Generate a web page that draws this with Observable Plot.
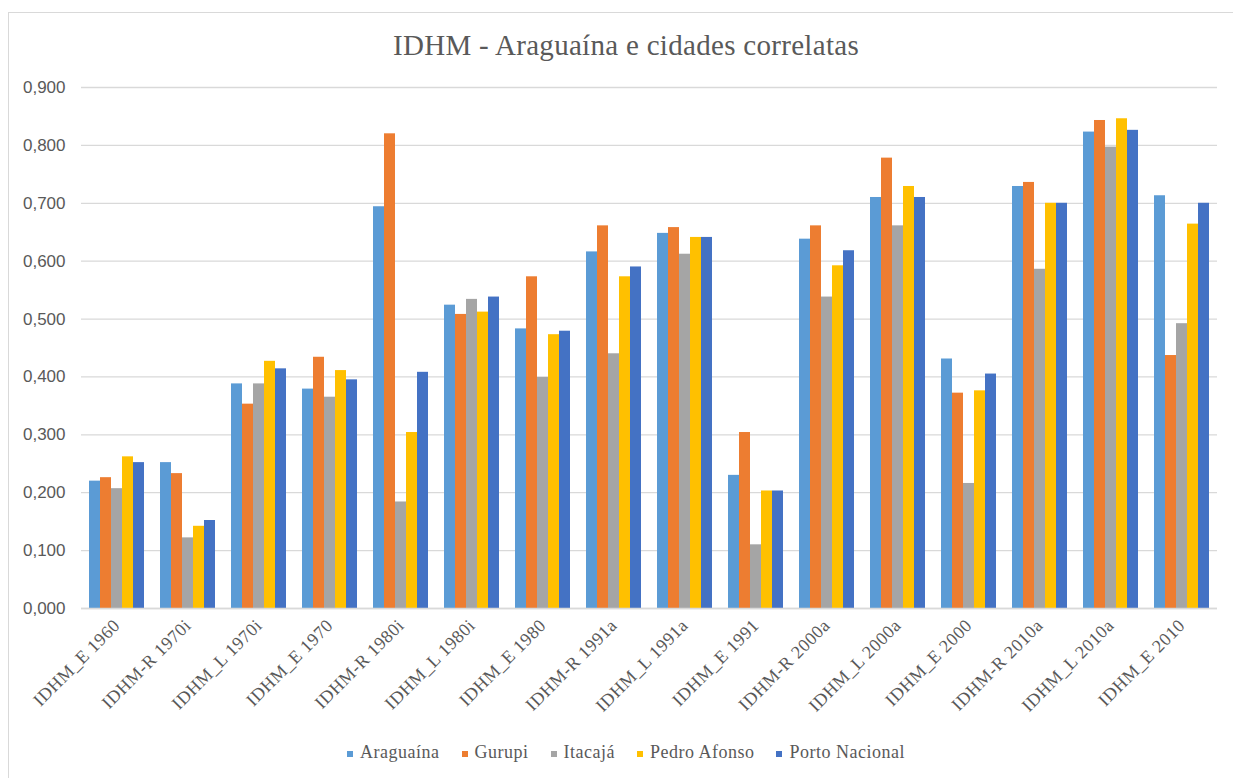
<!DOCTYPE html>
<html>
<head>
<meta charset="utf-8">
<script src="https://cdn.jsdelivr.net/npm/d3@7"></script>
<script src="https://cdn.jsdelivr.net/npm/@observablehq/plot@0.6"></script>
<style>
  html, body { margin: 0; padding: 0; background: #fff; overflow: hidden; width: 1233px; height: 778px; }
  #wrap { position: relative; width: 1233px; height: 778px; overflow: hidden; }
  #border { position: absolute; left: 8px; top: 12px; width: 3000px; height: 3000px;
            border-left: 1.5px solid #d9d9d9; border-top: 1.5px solid #d9d9d9; }
  #chart { position: absolute; left: 0; top: 0; }
  #title { position: absolute; left: 0; top: 31px; width: 1252px; text-align: center;
           font-family: "Liberation Serif", "Times New Roman", serif; font-size: 29px; line-height: 29px;
           color: #595959; letter-spacing: 0.3px; white-space: nowrap; }
  #legend { position: absolute; left: 0; top: 741px; width: 1252px; display: flex; justify-content: center;
            font-family: "Liberation Serif", "Times New Roman", serif; font-size: 18px; line-height: 22px;
            color: #595959; letter-spacing: 0.5px; }
  #legend .item { display: flex; align-items: center; margin: 0 11px; }
  #legend .sw { width: 6px; height: 6px; margin-right: 7px; margin-top: 4px; }
  svg [aria-label="fx-axis tick label"] text { letter-spacing: 0.5px; }
</style>
</head>
<body>
<div id="wrap">
  <div id="border"></div>
  <div id="chart"></div>
  <div id="title">IDHM - Araguaína e cidades correlatas</div>
  <div id="legend"></div>
</div>
<script>
const categories = ["IDHM_E 1960","IDHM-R 1970i","IDHM_L 1970i","IDHM_E 1970","IDHM-R 1980i","IDHM_L 1980i","IDHM_E 1980","IDHM-R 1991a","IDHM_L 1991a","IDHM_E 1991","IDHM-R 2000a","IDHM_L 2000a","IDHM_E 2000","IDHM-R 2010a","IDHM_L 2010a","IDHM_E 2010"];
const cities = ["Araguaína","Gurupi","Itacajá","Pedro Afonso","Porto Nacional"];
const colors = ["#5b9bd5","#ed7d31","#a5a5a5","#ffc000","#4472c4"];

const araguaina     = [0.220,0.252,0.388,0.379,0.694,0.524,0.483,0.616,0.648,0.230,0.638,0.710,0.431,0.729,0.823,0.713];
const gurupi        = [0.226,0.233,0.353,0.434,0.820,0.508,0.573,0.661,0.658,0.304,0.661,0.778,0.372,0.736,0.843,0.437];
const itacaja       = [0.207,0.122,0.388,0.365,0.184,0.534,0.399,0.440,0.612,0.110,0.538,0.661,0.216,0.586,0.797,0.492];
const pedroAfonso   = [0.262,0.142,0.427,0.411,0.304,0.512,0.473,0.573,0.641,0.203,0.592,0.729,0.376,0.700,0.846,0.664];
const portoNacional = [0.252,0.152,0.414,0.395,0.408,0.538,0.479,0.590,0.641,0.203,0.618,0.710,0.405,0.700,0.826,0.700];

const yTicks = [0, 0.1, 0.2, 0.3, 0.4, 0.5, 0.6, 0.7, 0.8, 0.9];

const series = [araguaina, gurupi, itacaja, pedroAfonso, portoNacional];
const data = [];
categories.forEach((c, i) => {
  cities.forEach((city, j) => data.push({category: c, city, value: series[j][i]}));
});

const fmt = d => d3.format(".3f")(d).replace(".", ",");
const serif = "Liberation Serif, Times New Roman, serif";

const chart = Plot.plot({
  width: 1233,
  height: 720,
  marginLeft: 79,
  marginRight: 15,
  marginTop: 87,
  marginBottom: 112,
  style: {background: "transparent", overflow: "visible"},
  fx: {domain: categories, padding: 0, axis: null},
  x: {domain: cities, paddingInner: 0, paddingOuter: 0.625, axis: null},
  y: {domain: [0, 0.9], axis: null},
  color: {domain: cities, range: colors},
  marks: [
    Plot.gridY(yTicks, {stroke: "#d9d9d9", strokeOpacity: 1, strokeWidth: 1.3}),
    Plot.barY(data, {fx: "category", x: "city", y: "value", fill: "city"}),
    Plot.ruleY([0], {stroke: "#d9d9d9", strokeWidth: 1.3}),
    Plot.axisY(yTicks, {tickFormat: fmt, tickSize: 0, tickPadding: 16, fontSize: 17,
      fontFamily: "Liberation Sans, Arial, sans-serif", fill: "#595959", label: null}),
    Plot.axisFx({anchor: "bottom", tickRotate: -45, tickSize: 0, tickPadding: 14, fontSize: 18,
      fontFamily: serif, fill: "#595959", label: null})
  ]
});
document.getElementById("chart").appendChild(chart);

const legend = d3.select("#legend");
cities.forEach((c, i) => {
  const it = legend.append("div").attr("class", "item");
  it.append("div").attr("class", "sw").style("background", colors[i]);
  it.append("span").text(c);
});
</script>
</body>
</html>
